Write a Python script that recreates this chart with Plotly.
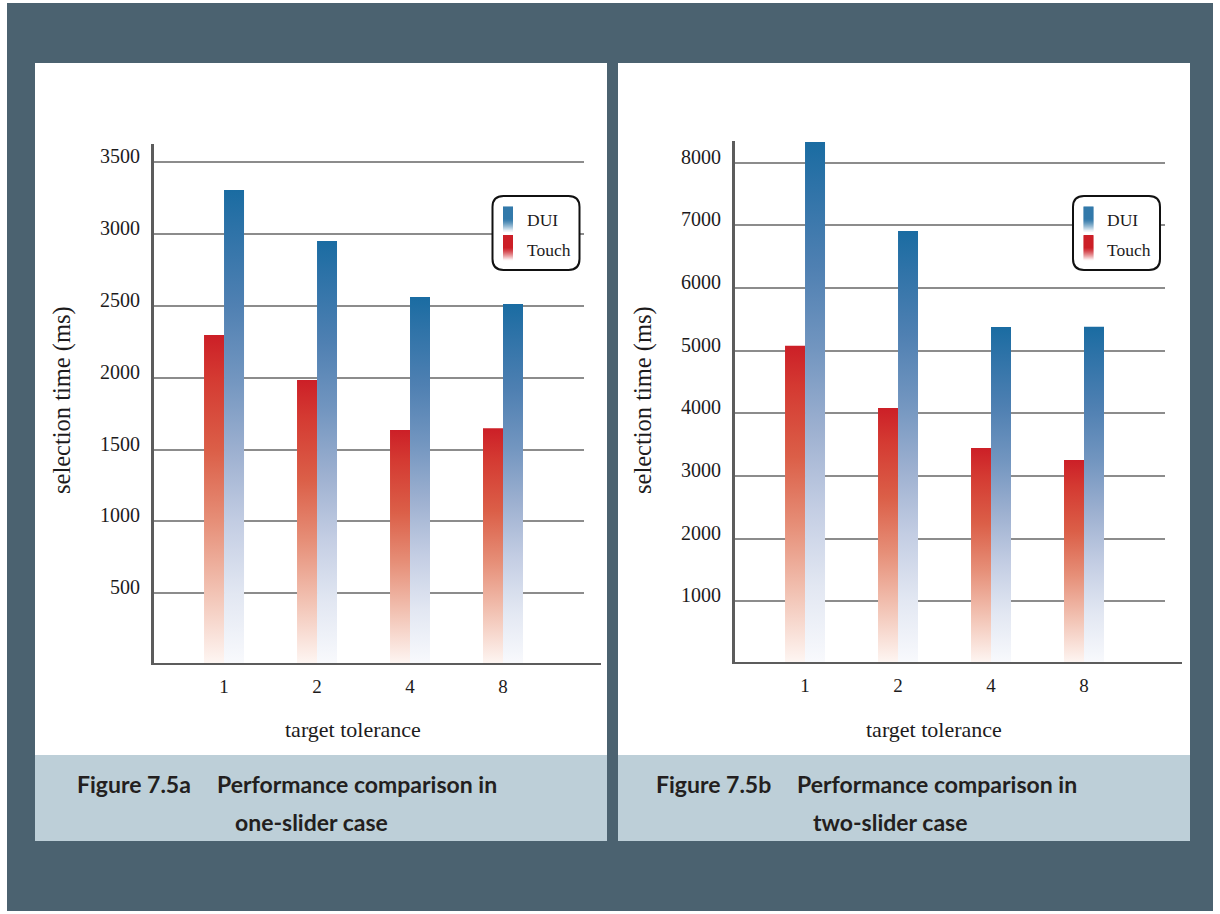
import plotly.graph_objects as go

W, H = 1220, 914

# ---- data -------------------------------------------------------------
categories = ["1", "2", "4", "8"]

dui_one = [3308, 2953, 2563, 2514]
touch_one = [2298, 1985, 1637, 1648]

dui_two = [8330, 6909, 5377, 5382]
touch_two = [5079, 4085, 3447, 3255]

yticks_one = [500, 1000, 1500, 2000, 2500, 3000, 3500]
yticks_two = [1000, 2000, 3000, 4000, 5000, 6000, 7000, 8000]

series_names = ["DUI", "Touch"]
x_title = "target tolerance"
y_title = "selection time (ms)"
caption_a = ("Figure 7.5a", "Performance comparison in", "one-slider case")
caption_b = ("Figure 7.5b", "Performance comparison in", "two-slider case")

# ---- styling ----------------------------------------------------------
BG_DARK = "#4b6270"
CAPTION_BG = "#bdcfd8"
TEXT = "#1d1b1c"
GRID = "#8c8c8c"
AXIS = "#5c5c5c"
SERIF = "Liberation Serif"
SANS = "Lato"

DUI_SCALE = [[0.00, "#f9fafd"], [0.15, "#e2e7f2"], [0.30, "#c3cde3"],
             [0.45, "#9db0d0"], [0.60, "#7396c0"], [0.76, "#4f80b2"],
             [0.91, "#2f73a8"], [1.00, "#1a6ca2"]]
TOUCH_SCALE = [[0.00, "#fef7f4"], [0.22, "#f2c3b4"], [0.435, "#e68f78"],
               [0.65, "#db5f48"], [0.87, "#d43a32"], [1.00, "#cc1f27"]]

BAR_W = 0.215          # width of one bar in category units
X_RANGE = [-0.753, 3.871]


def px(x):
    return x / W


def py(y):
    return 1 - y / H


def bar_traces(values, offset, scale, xa, ya):
    traces = []
    for i, v in enumerate(values):
        x0 = i + offset
        x1 = x0 + BAR_W
        traces.append(go.Scatter(
            x=[x0, x0, x1, x1, x0], y=[0, v, v, 0, 0],
            mode="lines", line=dict(width=0), fill="toself",
            fillgradient=dict(type="vertical", colorscale=scale,
                              start=0, stop=v),
            xaxis=xa, yaxis=ya, hoverinfo="skip", showlegend=False,
        ))
    return traces


fig = go.Figure()
for t in bar_traces(touch_one, -BAR_W, TOUCH_SCALE, "x", "y"):
    fig.add_trace(t)
for t in bar_traces(dui_one, 0, DUI_SCALE, "x", "y"):
    fig.add_trace(t)
for t in bar_traces(touch_two, -BAR_W, TOUCH_SCALE, "x2", "y2"):
    fig.add_trace(t)
for t in bar_traces(dui_two, 0, DUI_SCALE, "x2", "y2"):
    fig.add_trace(t)


def xaxis_cfg(dom, anchor):
    return dict(domain=dom, anchor=anchor, range=X_RANGE,
                tickmode="array", tickvals=list(range(len(categories))),
                ticktext=categories, ticks="", showgrid=False,
                zeroline=False, showline=False, fixedrange=True,
                tickfont=dict(family=SERIF, size=19, color=TEXT),
                ticklabelstandoff=8)


def yaxis_cfg(dom, anchor, top, ticks):
    return dict(domain=dom, anchor=anchor, range=[0, top],
                tickmode="array", tickvals=ticks, ticks="",
                showgrid=True, gridcolor=GRID, gridwidth=2,
                zeroline=False, showline=True, linecolor=AXIS, linewidth=3,
                fixedrange=True, ticklabelshift=-6, ticklabelstandoff=7,
                tickfont=dict(family=SERIF, size=20, color=TEXT))


shapes = []
annotations = []

# outer frame and the two white cards with their caption bands
shapes.append(dict(type="rect", xref="paper", yref="paper", layer="below",
                   x0=px(7), x1=px(1213), y0=py(911), y1=py(3),
                   fillcolor=BG_DARK, line=dict(width=0)))
for left, right in [(35, 607), (618, 1190)]:
    shapes.append(dict(type="rect", xref="paper", yref="paper", layer="below",
                       x0=px(left), x1=px(right), y0=py(755), y1=py(63),
                       fillcolor="white", line=dict(width=0)))
    shapes.append(dict(type="rect", xref="paper", yref="paper", layer="below",
                       x0=px(left), x1=px(right), y0=py(841), y1=py(755),
                       fillcolor=CAPTION_BG, line=dict(width=0)))

# horizontal axis lines, running a little past the gridlines
for xr, yr in [("x domain", "y"), ("x2 domain", "y2")]:
    shapes.append(dict(type="line", xref=xr, yref=yr, x0=-0.007, x1=1.0395,
                       y0=0, y1=0, line=dict(color=AXIS, width=4)))


def rounded_box(x0, y0, x1, y1, r):
    pts = [("M", x0 + r, y0), ("L", x1 - r, y0), ("Q", x1, y0, x1, y0 + r),
           ("L", x1, y1 - r), ("Q", x1, y1, x1 - r, y1), ("L", x0 + r, y1),
           ("Q", x0, y1, x0, y1 - r), ("L", x0, y0 + r),
           ("Q", x0, y0, x0 + r, y0)]
    out = []
    for seg in pts:
        cmd, coords = seg[0], seg[1:]
        pairs = []
        for k in range(0, len(coords), 2):
            pairs.append(f"{px(coords[k]):.5f},{py(coords[k + 1]):.5f}")
        out.append(cmd + " " + " ".join(pairs))
    return " ".join(out) + " Z"


def mix(c1, c2, t):
    a = [int(c1[i:i + 2], 16) for i in (1, 3, 5)]
    b = [int(c2[i:i + 2], 16) for i in (1, 3, 5)]
    return "rgb({},{},{})".format(*[round(a[k] + (b[k] - a[k]) * t) for k in range(3)])


def swatch(x0, y0, x1, y1, color):
    n = 25
    step = (y1 - y0) / n
    for j in range(n):
        t = (j + 0.5) / n
        f = 0 if t < 0.5 else (t - 0.5) / 0.5
        shapes.append(dict(type="rect", xref="paper", yref="paper",
                           x0=px(x0), x1=px(x1),
                           y0=py(y0 + (j + 1) * step + 0.3), y1=py(y0 + j * step),
                           fillcolor=mix(color, "#ffffff", f ** 1.3 * 0.97),
                           line=dict(width=0)))


def legend(box_left):
    shapes.append(dict(type="path", xref="paper", yref="paper",
                       path=rounded_box(box_left, 196, box_left + 87, 270, 11),
                       fillcolor="white", line=dict(color="#111111", width=2)))
    sx = box_left + 10.5
    swatch(sx, 206.5, sx + 10, 231.5, "#1c6aa0")
    swatch(sx, 235, sx + 10, 260, "#cc1f27")
    for name, yc in zip(series_names, [220, 250]):
        annotations.append(dict(text=name, xref="paper", yref="paper",
                                x=px(box_left + 32), y=py(yc),
                                xanchor="left", yanchor="middle",
                                showarrow=False,
                                font=dict(family=SERIF, size=17.5, color=TEXT)))


legend(492.5)
legend(1073)


def titles(ylab_x, xlab_x):
    annotations.append(dict(text=y_title, xref="paper", yref="paper",
                            x=px(ylab_x), y=py(400), textangle=-90,
                            xanchor="center", yanchor="middle", showarrow=False,
                            font=dict(family=SERIF, size=24.5, color=TEXT)))
    annotations.append(dict(text=x_title, xref="paper", yref="paper",
                            x=px(xlab_x), y=py(729),
                            xanchor="center", yanchor="middle", showarrow=False,
                            font=dict(family=SERIF, size=22, color=TEXT)))


titles(62, 353)
titles(643, 934)


def caption(parts, fig_x, perf_x, second_cx):
    cap_font = dict(family=SANS, size=23, color="#231f20", weight=700)
    annotations.append(dict(text=parts[0], xref="paper", yref="paper",
                            x=px(fig_x), y=py(784), xanchor="left",
                            yanchor="middle", showarrow=False, font=cap_font))
    annotations.append(dict(text=parts[1], xref="paper", yref="paper",
                            x=px(perf_x), y=py(784), xanchor="left",
                            yanchor="middle", showarrow=False, font=cap_font))
    annotations.append(dict(text=parts[2], xref="paper", yref="paper",
                            x=px(second_cx), y=py(822), xanchor="center",
                            yanchor="middle", showarrow=False, font=cap_font))


caption(caption_a, 75, 215, 311)
caption(caption_b, 654, 795, 890)

fig.update_layout(
    width=W, height=H, autosize=False,
    margin=dict(l=0, r=0, t=0, b=0),
    paper_bgcolor="white", plot_bgcolor="rgba(0,0,0,0)",
    showlegend=False,
    xaxis=xaxis_cfg([px(154), px(584)], "y"),
    yaxis=yaxis_cfg([py(665), py(144)], "x", 3628, yticks_one),
    xaxis2=xaxis_cfg([px(735), px(1165)], "y2"),
    yaxis2=yaxis_cfg([py(664), py(141.3)], "x2", 8340, yticks_two),
    shapes=shapes,
    annotations=annotations,
)

fig.write_html("out.html", config={"displayModeBar": False})
